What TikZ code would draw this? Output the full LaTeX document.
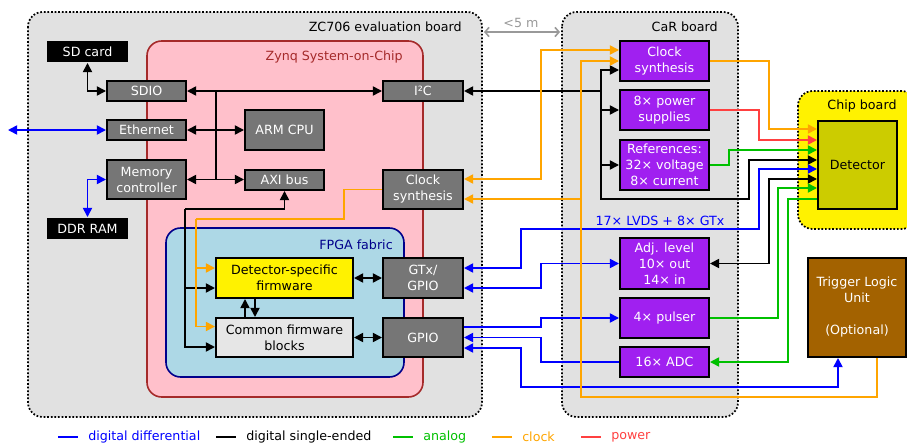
\documentclass[tikz,border=0pt]{standalone}
\usepackage{fontspec}
\setmainfont{DejaVu Sans}
\usetikzlibrary{arrows.meta,calc}
\definecolor{boardgray}{HTML}{E1E1E1}
\definecolor{boxgray}{HTML}{767676}
\definecolor{zynqpink}{HTML}{FFC0CB}
\definecolor{zynqred}{HTML}{A52A2A}
\definecolor{fpgablue}{HTML}{ADD8E6}
\definecolor{fpgadark}{HTML}{00008B}
\definecolor{carpurple}{HTML}{A020F0}
\definecolor{detolive}{HTML}{CCCC00}
\definecolor{tlubrown}{HTML}{A36200}
\definecolor{lineblue}{HTML}{0000FF}
\definecolor{linegreen}{HTML}{00C000}
\definecolor{lineorange}{HTML}{FFA500}
\definecolor{linered}{HTML}{FF4040}
\definecolor{fwgray}{HTML}{E6E6E6}
\definecolor{distgray}{HTML}{999999}
\begin{document}
\begin{tikzpicture}[x=0.75pt,y=-0.75pt,
  font=\fontsize{9.5}{12}\selectfont,
  blk/.style={rectangle, inner sep=0pt, align=center, line width=1.5pt},
  sz/.style 2 args={minimum width=#1*0.75pt, minimum height=#2*0.75pt},
  gbox/.style={blk, draw=black, fill=boxgray, text=white},
  pbox/.style={blk, draw=black, fill=carpurple, text=white},
  kbox/.style={blk, fill=black, text=white},
  conn/.style={line width=1.25pt, >={Triangle[length=6.8pt,width=6.8pt]}},
  bk/.style={conn, draw=black},
  bl/.style={conn, draw=lineblue},
  gr/.style={conn, draw=linegreen},
  og/.style={conn, draw=lineorange},
  rd/.style={conn, draw=linered},
  container/.style={draw=black, line width=1.3pt, dash pattern=on 1.3pt off 1.4pt, rounded corners=11pt},
  region/.style={line width=1.2pt, rounded corners=11pt},
  lgd/.style={anchor=west, inner sep=0pt},
  ttl/.style={anchor=east, inner sep=0pt},
]
\useasboundingbox (0,0) rectangle (907,446);

% containers
\draw[container, fill=boardgray] (28,12) rectangle (482,417);
\draw[container, fill=boardgray] (562,12) rectangle (738,417);
\draw[container, fill=yellow] (798,91) rectangle (916,229);
\draw[region, draw=zynqred, fill=zynqpink] (147,41) rectangle (423,397);
\draw[region, draw=fpgadark, fill=fpgablue] (166,228) rectangle (404,377);

% titles
\node[ttl] (zctitle) at (462,27) {ZC706 evaluation board};
\node[ttl] (cartitle) at (718,27) {CaR board};
\node[ttl, text=zynqred] (zynqtitle) at (403,57) {Zynq System-on-Chip};
\node[ttl, text=fpgadark] (fpgatitle) at (393,245) {FPGA fabric};
\node (chiptitle) at (862,106) {Chip board};
\node[text=distgray] (dist) at (521,23) {<5 m};
\coordinate (distL) at (484,32);
\coordinate (distR) at (560,32);
\draw[distgray, line width=1.2pt, {Straight Barb[length=3pt,width=7pt]}-{Straight Barb[length=3pt,width=7pt]}] (distL) -- (distR);

% nodes
\node[kbox, sz={81}{21}] (sdcard) at (87.5,51.5) {SD card};
\node[kbox, sz={81}{21}] (ddr) at (87.5,228.5) {DDR RAM};
\node[gbox, sz={79}{20}] (sdio) at (146.5,91) {SDIO};
\node[gbox, sz={79}{20}] (eth) at (146.5,130) {Ethernet};
\node[gbox, sz={79}{39}] (mc) at (146.5,179.5) {Memory\\controller};
\node[gbox, sz={79}{40}] (arm) at (284.5,130) {ARM CPU};
\node[gbox, sz={79}{20}] (axi) at (284.5,180) {AXI bus};
\node[gbox, sz={80}{20}] (i2c) at (423,91) {I²C};
\node[gbox, sz={80}{39}] (clkz) at (423,189.5) {Clock\\synthesis};
\node[blk, draw=black, fill=yellow, sz={137}{40}] (detfw) at (284.5,278) {Detector-specific\\firmware};
\node[blk, draw=black, fill=fwgray, sz={137}{39}] (comfw) at (284.5,337.5) {Common firmware\\blocks};
\node[gbox, sz={80}{40}] (gtx) at (423,278) {GTx/\\GPIO};
\node[gbox, sz={80}{39}] (gpio) at (423,337.5) {GPIO};
\node[pbox, sz={89}{40}] (carclk) at (664.5,61) {Clock\\synthesis};
\node[pbox, sz={89}{40}] (pwr) at (664.5,110) {8× power\\supplies};
\node[pbox, sz={89}{50}] (refs) at (664.5,165) {References:\\32× voltage\\8× current};
\node[pbox, sz={89}{51}] (adj) at (664.5,263.5) {Adj. level\\10× out\\14× in};
\node[pbox, sz={89}{40}] (pulser) at (664.5,318) {4× pulser};
\node[pbox, sz={89}{30}] (adc) at (664.5,362) {16× ADC};
\node[blk, draw=black, fill=detolive, sz={79}{88}] (det) at (857.5,165) {Detector};
\node[blk, draw=black, fill=tlubrown, text=white, sz={98}{99}] (tlu) at (857,307.5) {Trigger Logic\\Unit\\[12pt](Optional)};
\node[text=lineblue, inner sep=0pt] (lvds) at (660,221) {17× LVDS + 8× GTx};

% black, ZC706 side
\coordinate (bus1) at (216,91);
\coordinate (bus2) at (216,180);
\draw[bk,<->] (sdcard.south) |- (sdio.west);
\draw[bk,<->] (sdio.east) -- (i2c.west);
\draw[bk] (bus1) -- (bus2);
\draw[bk,<->] (eth.east) -- (arm.west);
\draw[bk,<->] (mc.east) -- (mc.east -| axi.west);
\coordinate (ft) at (185,209);
\draw[bk,->] (ft) -| (axi.south);
\draw[bk,->] (ft) |- ($(detfw.west)+(0,10)$);
\draw[bk,->] (ft) |- ($(comfw.west)+(0,9.5)$);
\draw[bk,->] ($(comfw.north)+(-39.5,0)$) -- ($(detfw.south)+(-39.5,0)$);
\draw[bk,->] ($(detfw.south)+(-29.5,0)$) -- ($(comfw.north)+(-29.5,0)$);
\draw[bk,<->] (detfw.east) -- (gtx.west);
\draw[bk,<->] (comfw.east) -- (gpio.west);

% black, I2C tree
\coordinate (ct) at (601,91);
\coordinate (cb) at (749,199);
\draw[bk,->] (ct) -- (i2c.east);
\draw[bk,->] (ct) |- ($(carclk.west)+(0,9)$);
\draw[bk,->] (ct) |- (pwr.west);
\draw[bk,->] (ct) |- (refs.west);
\draw[bk,->] (ct) |- (cb) |- ($(det.west)+(0,-5)$);
\coordinate (ab) at (769,263.5);
\draw[bk,<->] ($(det.west)+(0,14)$) -| (ab) -- (adj.east);

% to detector
\coordinate (o1) at (769,129);
\draw[og,->] (carclk.east) -| (o1) -- (o1 -| det.west);
\coordinate (r1) at (759,140);
\draw[rd,->] (pwr.east) -| (r1) -- (r1 -| det.west);
\coordinate (g1) at (729,150);
\draw[gr,->] (refs.east) -| (g1) -- (g1 -| det.west);
\coordinate (bd1) at (759,169);
\coordinate (bd2) at (521,229);
\draw[bl,<->] (bd1 -| det.west) -- (bd1) |- (bd2) |- ($(gtx.east)+(0,-10)$);
\coordinate (g2) at (778,188);
\draw[gr,->] (pulser.east) -| (g2) -- (g2 -| det.west);
\coordinate (g3) at (788,199);
\draw[gr,->] (g3 -| det.west) -- (g3) |- (adc.east);

% blue between boards
\coordinate (b3) at (541,263.5);
\draw[bl,<->] ($(gtx.east)+(0,10)$) -| (b3) -- (adj.west);
\coordinate (b4) at (541,318);
\draw[bl,->] ($(gpio.east)+(0,-10.5)$) -| (b4) -- (pulser.west);
\coordinate (b5) at (541,337.5);
\draw[bl,->] (adc.west) -| (b5) -- (gpio.east);
\coordinate (b6) at (521,387);
\draw[bl,<->] ($(gpio.east)+(0,10.5)$) -| (b6) -| ($(tlu.south)+(-19,0)$);

% orange clocks
\coordinate (o2) at (541,50);
\draw[og,<->] ($(clkz.east)+(0,-10.5)$) -| (o2) -- ($(carclk.west)+(0,-11)$);
\coordinate (o4) at (581,397);
\coordinate (o5) at (581,199);
\draw[og,->] ($(tlu.south)+(20,0)$) |- (o4) |- (carclk.west);
\draw[og,->] (o5) -- (o5 -| clkz.east);
\coordinate (o7) at (344,219);
\coordinate (o6) at (196,219);
\draw[og] (clkz.west) -| (o7) -- (o6);
\draw[og,->] (o6) |- ($(detfw.west)+(0,-10)$);
\draw[og,->] (o6) |- ($(comfw.west)+(0,-11)$);

% external blue
\coordinate (extnet) at (8,130);
\draw[bl,<->] (eth.west) -- (extnet);
\draw[bl,<->] (mc.west) -| (ddr.north);

% legend
\node[lgd, text=lineblue] (lg1) at (88,437) {digital differential};
\node[lgd, text=black] (lg2) at (246,437) {digital single-ended};
\node[lgd, text=linegreen] (lg3) at (423,437) {analog};
\node[lgd, text=lineorange] (lg4) at (522,437) {clock};
\node[lgd, text=linered] (lg5) at (611,437) {power};
\draw[bl] ($(lg1.west)+(-30,0)$) -- ++(20,0);
\draw[bk] ($(lg2.west)+(-30,0)$) -- ++(20,0);
\draw[gr] ($(lg3.west)+(-30,0)$) -- ++(20,0);
\draw[og] ($(lg4.west)+(-30,0)$) -- ++(20,0);
\draw[rd] ($(lg5.west)+(-30,0)$) -- ++(20,0);
\end{tikzpicture}
\end{document}
